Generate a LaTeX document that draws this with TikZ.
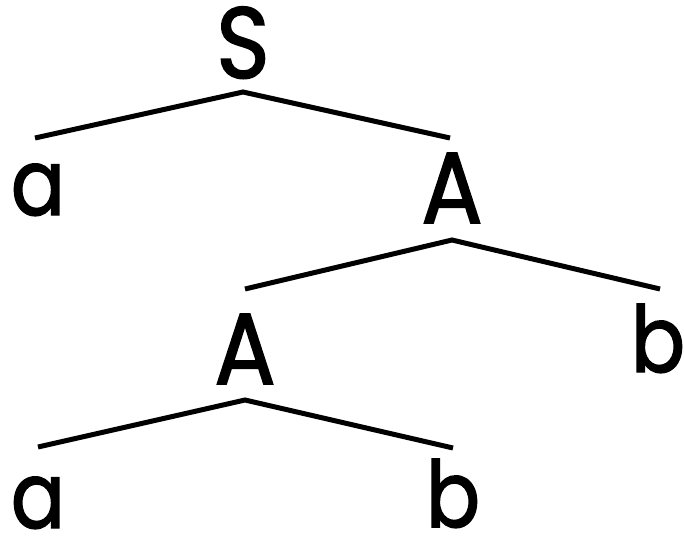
\documentclass[tikz,border=0pt]{standalone}
\usepackage{fontspec}
\newfontfamily\capfont{Poppins}[FakeBold=1.6,FakeStretch=0.9]
\newfontfamily\lowfont{Poppins}[FakeBold=1.6,FakeStretch=0.87]
\begin{document}
\begin{tikzpicture}[x=1pt,y=-1pt,
  upsym/.style={anchor=base,inner sep=0pt,font=\capfont\fontsize{101}{101}\selectfont},
  lowsym/.style={anchor=base,inner sep=0pt,font=\lowfont\fontsize{92}{92}\selectfont},
  branch/.style={line width=5pt,line join=miter}]
\useasboundingbox (0,0) rectangle (684,541);
% tree symbols, placed on their baselines
\node[upsym]  (S)  at (243,78)  {S};
\node[lowsym] (a1) at (38,215)  {a};
\node[upsym]  (A1) at (452,223) {A};
\node[lowsym] (b1) at (658,372) {b};
\node[upsym]  (A2) at (245,384) {A};
\node[lowsym] (a2) at (38,528)  {a};
\node[lowsym] (b2) at (453,527) {b};
% branches: left child -- parent -- right child
\draw[branch] ([shift={(-3,-77)}]a1.base) -- ([shift={(0,14)}]S.base) -- ([shift={(-2,-85)}]A1.base);
\draw[branch] ([shift={(0,-95)}]A2.base) -- ([shift={(0,17)}]A1.base) -- ([shift={(2,-83)}]b1.base);
\draw[branch] ([shift={(0,-81)}]a2.base) -- ([shift={(0,16)}]A2.base) -- ([shift={(0,-79)}]b2.base);
\end{tikzpicture}
\end{document}
